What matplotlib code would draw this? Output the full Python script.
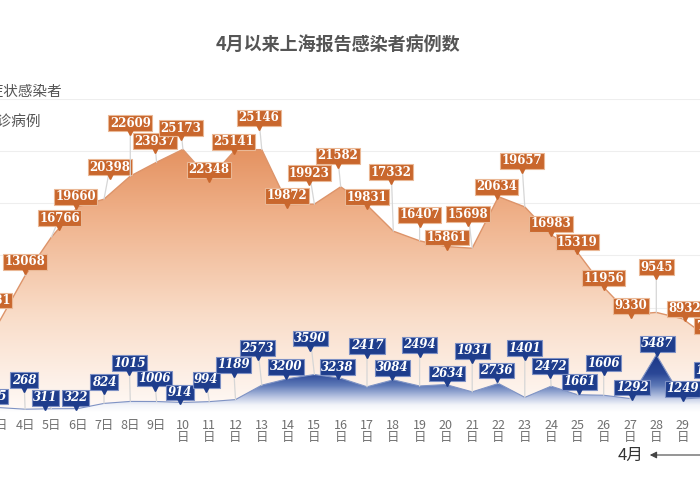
import matplotlib
matplotlib.use('Agg')
import matplotlib.pyplot as plt
import numpy as np
from matplotlib.colors import LinearSegmentedColormap
from matplotlib.transforms import offset_copy

plt.rcParams['font.family'] = ['Noto Sans CJK SC', 'DejaVu Sans']

# ---- data ----
days = list(range(3, 31))
asym = [8581, 13068, 16766, 19660, 20398, 22609, 23937, 25173, 22348, 25141,
        25146, 19872, 19923, 21582, 19831, 17332, 16407, 15861, 15698, 20634,
        19657, 16983, 15319, 11956, 9330, 9545, 8932, 7084]
conf = [425, 268, 311, 322, 824, 1015, 1006, 914, 994, 1189,
        2573, 3200, 3590, 3238, 2417, 3084, 2494, 2634, 1931, 2736,
        1401, 2472, 1661, 1606, 1292, 5487, 1249, 1403]
tick_labels = [f"{d}日" if d < 10 else f"{d}\n日" for d in days]
title = "4月以来上海报告感染者病例数"
legend_names = ["无症状感染者", "确诊病例"]

# ---- label layout (pixel offsets of label boxes from their points) ----
orange_off = [(-4, 22), (0, 14), (8, 19), (-2, 10), (6, 32), (0, 53), (-2, 21), (-2, 21),
              (0, 9), (-2, 8), (-3, 32), (-1, 9), (-5, 31), (-3, 31), (0, 8), (-2, 59),
              (0, 26), (1, 9), (-4, 34), (-2, 10), (-3, 46), (0, 11), (0, 10), (0, 9),
              (1, 9), (0, 45), (2, 10), (3, 12)]
blue_off = [(-4, 11), (-1, 29), (-6, 11), (-2, 11), (0, 21), (-1, 38), (-2, 23), (-3, 10),
            (-3, 22), (-2, 35), (-4, 37), (-2, 12), (-4, 36), (-3, 11), (0, 41), (-1, 12),
            (0, 41), (1, 11), (0, 41), (-2, 13), (0, 49), (-1, 20), (2, 13), (0, 32),
            (2, 11), (1, 11), (0, 10), (3, 27)]

W, H = 700, 500
fig = plt.figure(figsize=(7, 5), dpi=100)
fig.patch.set_facecolor('white')

# axes extends beyond the canvas (the reference is a crop)
px0, pxw = 25.1, 26.3          # pixel position of day 4, pixels per day
left_px, right_px = -40, 740
base_px, top_px = 412, 99      # baseline and 30000 line (from top)
ax = fig.add_axes([left_px / W, (H - base_px) / H, (right_px - left_px) / W,
                   (base_px - top_px) / H])
ax.set_xlim(4 + (left_px - px0) / pxw, 4 + (right_px - px0) / pxw)
ax.set_ylim(0, 30000)
for s in ax.spines.values():
    s.set_visible(False)
ax.set_yticks(range(5000, 30001, 5000))
ax.set_yticklabels([])
ax.tick_params(axis='y', length=0)
ax.grid(axis='y', color='#eeeeee', lw=0.8)
ax.set_axisbelow(True)
ax.set_xticks(days)
ax.set_xticklabels(tick_labels, fontsize=9, color='#707070', linespacing=0.95)
ax.tick_params(axis='x', length=0, pad=5)

xlo, xhi = ax.get_xlim()

# orange gradient area
cm_o = LinearSegmentedColormap.from_list(
    'o', [(0, '#fffaf7'), (0.35, '#f9ddc9'), (0.7, '#f0b48e'), (1.0, '#e38e5b')])
poly_o = ax.fill_between(days, asym, 0, facecolor='none', edgecolor='none')
grad = np.linspace(0, 1, 256).reshape(-1, 1)
im = ax.imshow(grad, extent=[xlo, xhi, 0, 26000], origin='lower', aspect='auto',
               cmap=cm_o, zorder=1)
im.set_clip_path(poly_o.get_paths()[0], transform=ax.transData)
ax.plot(days, asym, color='#dd946a', lw=1.0, zorder=1.5)

# blue gradient area
cm_b = LinearSegmentedColormap.from_list(
    'b', [(0, '#ffffff'), (0.12, '#f2f4f9'), (0.25, '#bcc7e3'), (0.45, '#5f7ab8'),
          (0.65, '#2b4897'), (1.0, '#1a3585')])
poly_b = ax.fill_between(days, conf, 0, facecolor='none', edgecolor='none')
im2 = ax.imshow(grad, extent=[xlo, xhi, 0, 5600], origin='lower', aspect='auto',
                cmap=cm_b, zorder=2)
im2.set_clip_path(poly_b.get_paths()[0], transform=ax.transData)
ax.plot(days, conf, color='#7f93c4', lw=0.8, zorder=2.5)
ax.set_ylim(0, 30000)


def flag(d, v, off, fc, ec, style):
    dx, dy = off
    ax.annotate(str(v), xy=(d, v), xytext=(dx, dy), textcoords='offset pixels',
                ha='center', va='center', fontsize=8.5, color='white',
                family='DejaVu Serif', weight='bold', style=style,
                bbox=dict(boxstyle='square,pad=0.12', fc=fc, ec=ec, lw=0.8),
                arrowprops=dict(arrowstyle='-', color='#d6d6d6', lw=0.9,
                                shrinkA=0, shrinkB=0),
                zorder=5, annotation_clip=False)
    tr = offset_copy(ax.transData, fig=fig, x=dx, y=dy - 9, units='dots')
    ax.plot([d], [v], marker='v', ms=4, color=fc, mec=fc, transform=tr,
            zorder=5, clip_on=False)


for d, v, o in zip(days, asym, orange_off):
    flag(d, v, o, '#c9672d', '#eab896', 'normal')
for d, v, o in zip(days, conf, blue_off):
    flag(d, v, o, '#1e3d8c', '#7d90c4', 'italic')

# title & legend text
fig.text(338 / W, 1 - 45 / H, title, ha='center', va='center', fontsize=13,
         color='#555555', weight='bold')
fig.text(-26 / W, 1 - 92 / H, legend_names[0], ha='left', va='center',
         fontsize=10.5, color='#555555')
fig.text(-18 / W, 1 - 122 / H, legend_names[1], ha='left', va='center',
         fontsize=10.5, color='#555555')

# month marker
fig.text(631 / W, 1 - 455 / H, "4月", ha='center', va='center', fontsize=12,
         color='#333333')
ax.annotate('', xy=(647 / W, 1 - 455 / H), xytext=(1.02, 1 - 455 / H),
            xycoords='figure fraction', textcoords='figure fraction',
            arrowprops=dict(arrowstyle='-|>', color='#444444', lw=0.8,
                            mutation_scale=10), annotation_clip=False)

fig.savefig('out.png', dpi=100, facecolor='white')
